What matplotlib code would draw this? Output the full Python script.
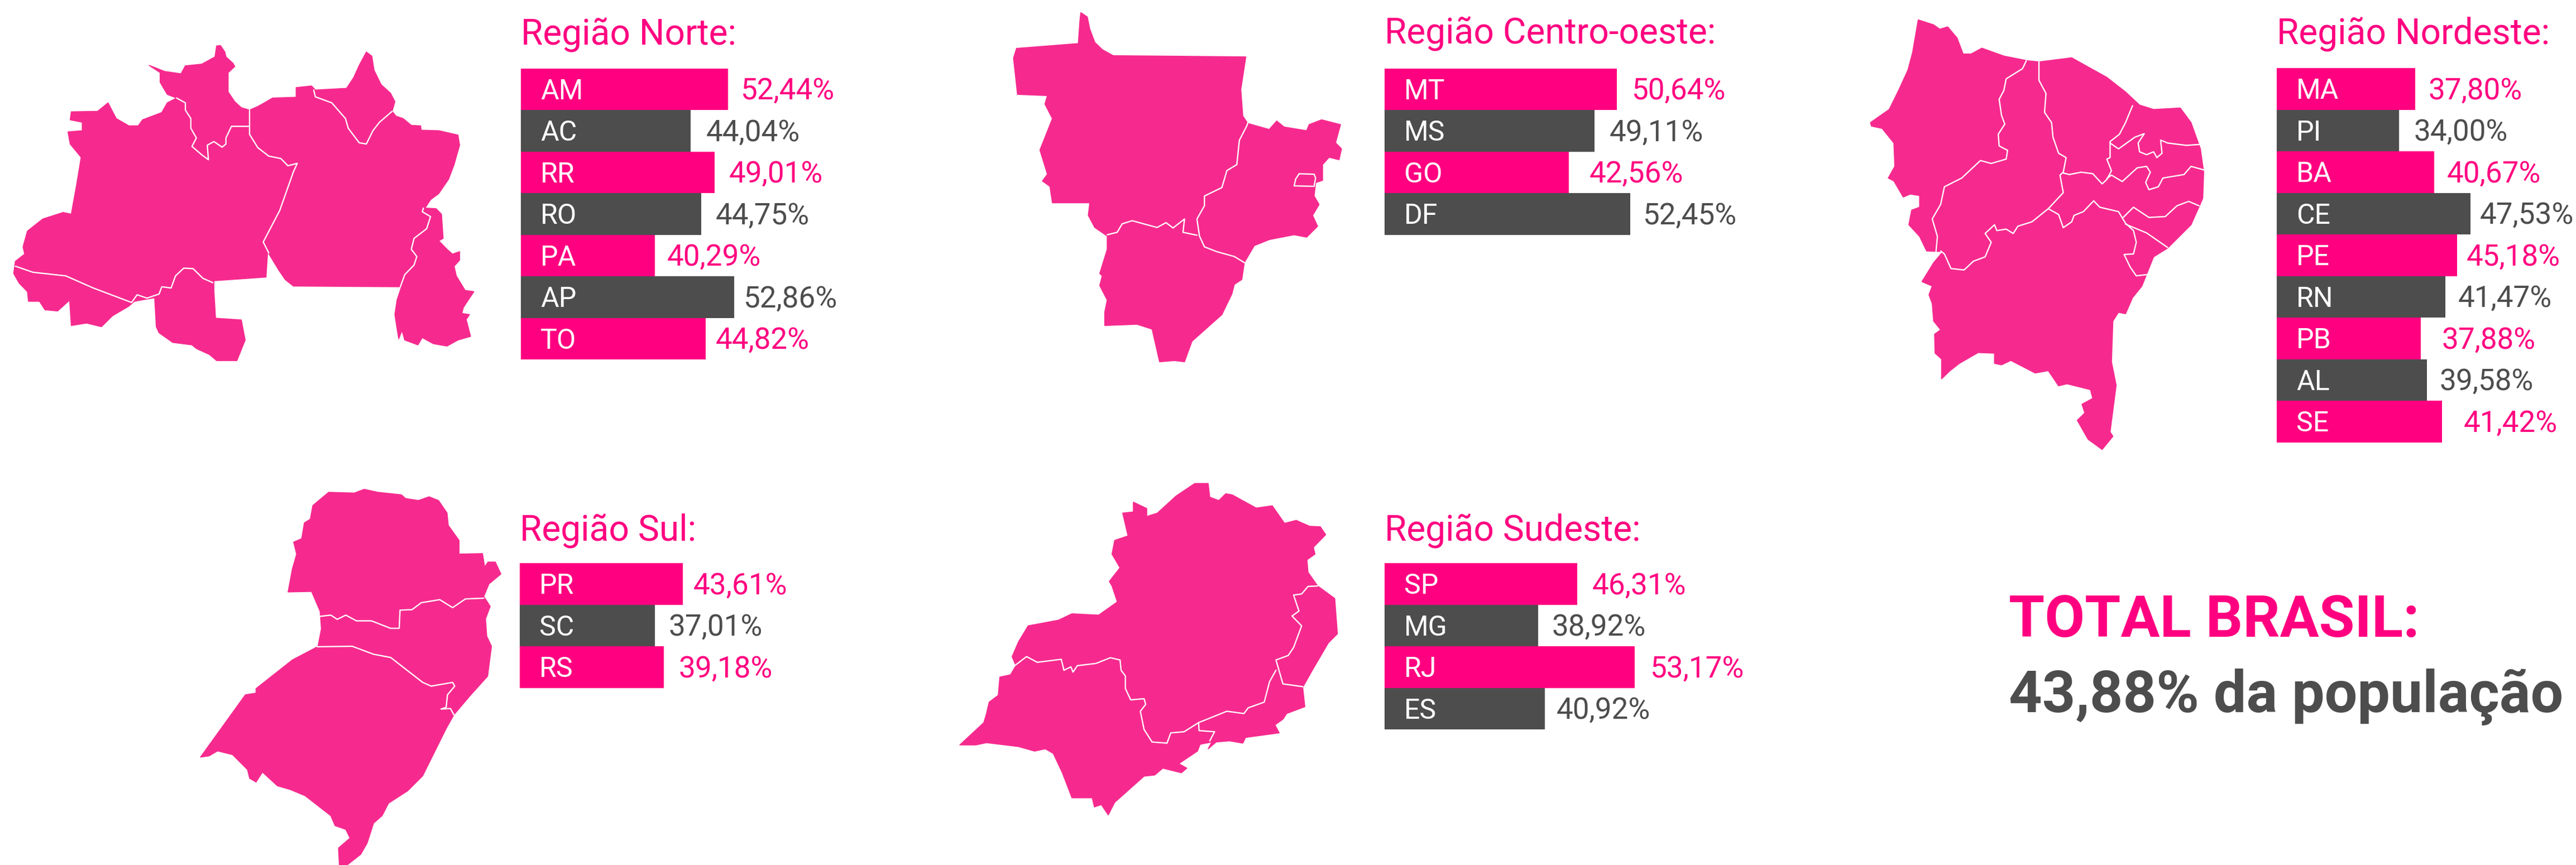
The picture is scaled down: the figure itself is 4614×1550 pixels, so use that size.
"""
plot.py
=======
Percentual da população por região e UF, com os mapas das regiões ao lado.
"""

import matplotlib
matplotlib.use('Agg')
import matplotlib.pyplot as plt
from matplotlib.patches import Polygon

ROSA = '#FF0080'
ROSA_MAPA = '#F62A8E'
CINZA = '#4D4D4D'

plt.rcParams['font.family'] = ['Roboto', 'DejaVu Sans']


# ── Dados ─────────────────────────────────────────────────────────────────────
# *_barras: comprimento desenhado de cada barra (px).
# Não é proporcional ao percentual escrito, por isso fica em lista própria.

norte_ufs = ['AM', 'AC', 'RR', 'RO', 'PA', 'AP', 'TO']
norte_valores = [52.44, 44.04, 49.01, 44.75, 40.29, 52.86, 44.82]
norte_barras = [371, 304, 347, 323, 240, 382, 331]

co_ufs = ['MT', 'MS', 'GO', 'DF']
co_valores = [50.64, 49.11, 42.56, 52.45]
co_barras = [416, 376, 330, 440]

ne_ufs = ['MA', 'PI', 'BA', 'CE', 'PE', 'RN', 'PB', 'AL', 'SE']
ne_valores = [37.80, 34.00, 40.67, 47.53, 45.18, 41.47, 37.88, 39.58, 41.42]
ne_barras = [248, 219, 282, 347, 323, 302, 258, 269, 296]

sul_ufs = ['PR', 'SC', 'RS']
sul_valores = [43.61, 37.01, 39.18]
sul_barras = [292, 242, 258]

se_ufs = ['SP', 'MG', 'RJ', 'ES']
se_valores = [46.31, 38.92, 53.17, 40.92]
se_barras = [345, 275, 448, 287]

total_titulo = 'TOTAL BRASIL:'
total_texto = '43,88% da população'


norte_contorno = [
    (402,188),(410,215),(412,235),(425,262),(428,275),(416,300),(416,380),(428,420),(440,445),(455,455),
    (470,440),(482,425),(497,405),(540,402),(540,362),(568,355),(575,372),(632,365),(645,320),(655,270),
    (668,215),(678,232),(682,290),(695,350),(712,385),(720,420),(715,460),(722,480),(735,490),(750,518),
    (767,520),(768,538),(800,540),(835,558),(838,600),(828,680),(818,740),(800,800),(785,825),(775,860),
    (795,862),(805,885),(808,985),(800,995),(815,1030),(825,1050),(838,1040),(838,1075),(828,1100),(832,1140),
    (848,1200),(864,1205),(845,1270),(842,1295),(856,1300),(850,1320),(858,1390),(835,1405),(815,1430),(790,1420),
    (770,1395),(762,1425),(738,1405),(733,1365),(727,1400),(720,1300),(724,1240),(732,1185),(535,1182),(520,1155),
    (508,1115),(488,1040),(485,1145),(390,1160),(390,1200),(393,1315),(440,1322),(447,1405),(432,1490),(395,1490),
    (382,1465),(358,1440),(350,1425),(315,1415),(290,1375),(285,1350),(282,1230),(245,1245),(235,1265),(205,1305),
    (185,1350),(158,1335),(130,1345),(127,1240),(105,1285),(82,1280),(72,1245),(52,1245),(50,1205),(35,1170),
    (25,1130),(28,1080),(45,1050),(42,1020),(50,955),(78,905),(115,878),(130,885),(140,760),(148,650),
    (128,595),(124,545),(150,540),(150,505),(128,495),(130,462),(178,460),(197,425),(205,460),(212,490),
    (235,520),(252,520),(260,495),(295,465),(305,425),(322,405),(305,390),(292,340),(292,300),(272,270),
    (300,295),(330,305),(338,272),(368,265),(392,235),(395,190),
]
norte_divisas = [
    [(322,405),(338,425),(338,455),(348,490),(348,530),(358,570),(350,605),(368,640),(380,660),(378,600),
     (390,585),(405,608),(412,595),(412,570),(422,522),(455,522)],
    [(455,455),(455,555),(470,610),(490,645),(512,655),(525,685),(542,675),(535,710),(510,870),(480,1000),(490,1045)],
    [(572,372),(575,400),(605,425),(630,490),(635,530),(655,590),(668,595),(680,540),(692,505),(715,460)],
    [(772,860),(770,875),(785,895),(778,945),(755,985),(750,1030),(760,1060),(755,1095),(738,1135),(730,1185)],
    [(28,1100),(60,1125),(120,1140),(170,1190),(240,1250),(250,1218),(268,1232),(290,1215),(295,1185),(312,1190),
     (320,1140),(335,1108),(352,1110),(370,1150),(388,1168)],
]

co_contorno = [
    (197,52),(210,70),(215,120),(225,175),(240,205),(262,230),(528,235),(518,370),(522,480),(532,510),
    (575,535),(590,500),(605,525),(650,540),(655,515),(680,495),(718,515),(708,590),(720,615),(715,660),
    (695,650),(682,680),(682,745),(668,755),(665,810),(675,845),(662,890),(672,935),(650,980),(625,970),
    (575,990),(545,1015),(525,1085),(520,1155),(505,1175),(500,1215),(480,1300),(420,1410),(405,1495),(385,1490),
    (355,1495),(340,1360),(310,1340),(245,1345),(245,1290),(250,1240),(235,1180),(240,1140),(235,1130),(250,1030),
    (250,975),(225,940),(212,890),(215,838),(140,838),(135,770),(120,748),(130,720),(115,620),(140,490),
    (125,430),(130,395),(70,390),(62,240),(68,200),(192,180),(195,90),
]
co_divisas = [
    [(540,460),(530,520),(515,580),(510,680),(490,705),(480,775),(445,810),(445,850),(430,905),(435,975),
     (445,1020),(470,1040),(505,1060),(525,1085)],
    [(250,970),(270,960),(280,925),(300,912),(350,940),(368,920),(382,942),(405,905),(402,960),(430,972)],
    [(635,718),(665,720),(668,735),(665,770),(625,768),(628,740),(635,718)],
]

ne_contorno = [
    (162,68),(195,85),(208,100),(225,92),(245,130),(258,185),(275,185),(298,165),(345,192),(395,208),
    (420,212),(490,198),(565,265),(605,315),(635,360),(665,375),(722,370),(745,420),(765,510),(772,590),
    (770,680),(745,770),(695,850),(665,880),(640,980),(620,1020),(605,1075),(590,1070),(578,1100),(575,1240),
    (585,1320),(572,1480),(578,1495),(555,1540),(525,1505),(502,1440),(518,1415),(512,1385),(535,1365),(530,1335),
    (480,1315),(462,1322),(440,1270),(412,1278),(360,1235),(340,1250),(325,1245),(325,1210),(290,1208),(250,1245),
    (230,1270),(212,1298),(212,1230),(198,1210),(197,1145),(210,1130),(195,1100),(192,1040),(185,1010),(192,980),
    (170,965),(195,900),(215,862),(180,860),(165,810),(142,770),(148,720),(165,710),(165,670),(145,665),
    (130,675),(110,620),(98,610),(112,570),(110,490),(85,440),(62,432),(60,420),(100,375),(120,310),
    (140,240),(150,180),
]
ne_divisas = [
    [(393,208),(385,235),(350,270),(345,310),(335,340),(340,395),(347,425),(333,460),(335,500),(353,515),
     (350,545),(318,560),(295,550),(255,610),(218,640),(210,700),(192,750),(203,810),(200,862)],
    [(420,212),(420,275),(435,320),(432,385),(447,420),(450,470),(462,525),(478,540),(472,590),(465,600),
     (472,660),(440,715),(405,760),(375,775),(365,800),(350,785),(330,790),(325,770),(305,800),(318,830),
     (305,880),(280,895),(260,925),(232,920),(218,870),(210,860)],
    [(620,362),(605,420),(592,460),(572,485),(572,540),(565,545),(575,585),(565,615),(555,630),(535,595),
     (510,590),(485,598),(470,592)],
    [(572,490),(590,510),(625,470),(645,458),(632,490),(635,520),(650,530),(665,520),(672,540),(683,525),
     (680,480),(695,490),(735,498),(762,495)],
    [(565,612),(575,600),(598,622),(630,575),(650,570),(658,590),(648,625),(655,650),(675,640),(685,610),
     (730,598),(745,570),(772,582)],
    [(440,715),(462,735),(472,780),(490,760),(495,738),(515,725),(537,688),(550,710),(590,725),(605,765),
     (622,790),(628,830),(622,870),(602,872),(615,915),(628,945),(655,940)],
    [(600,745),(622,710),(655,745),(690,742),(715,705),(740,690),(762,705)],
    [(605,768),(650,798),(695,848)],
]

sul_contorno = [
    (325,72),(385,75),(408,60),(440,72),(495,82),(505,97),(535,105),(560,90),(582,105),(602,155),
    (605,205),(630,265),(630,320),(685,318),(690,372),(698,352),(715,352),(728,400),(700,440),(688,490),
    (703,530),(692,580),(695,650),(706,690),(697,810),(655,890),(618,965),(600,1020),(545,1210),(510,1270),
    (465,1320),(450,1370),(430,1400),(415,1480),(400,1525),(368,1568),(350,1568),(348,1500),(375,1460),(365,1425),
    (340,1410),(330,1370),(300,1330),(270,1290),(235,1265),(205,1250),(170,1195),(155,1235),(140,1220),(135,1185),
    (100,1125),(65,1110),(45,1130),(25,1135),(130,885),(155,878),(155,860),(240,745),(290,700),(300,690),
    (308,620),(305,550),(285,470),(230,472),(240,380),(250,320),(243,272),(262,258),(268,195),(282,180),(288,125),
]
sul_divisas = [
    [(305,570),(330,565),(345,582),(365,565),(390,588),(425,588),(470,618),(490,618),(492,545),(520,543),
     (542,515),(585,503),(615,535),(645,500),(688,497)],
    [(298,692),(380,690),(430,722),(470,735),(545,835),(565,850),(615,835),(620,850),(603,885),(600,935),
     (588,942),(610,940),(618,965)],
]

se_contorno = [
    (460,40),(485,40),(488,100),(505,115),(518,85),(530,90),(575,148),(605,138),(628,215),(650,202),
    (675,228),(695,230),(705,265),(682,320),(685,350),(670,375),(672,430),(690,490),(722,545),(727,700),
    (710,740),(680,860),(662,935),(666,1020),(632,1050),(625,1075),(610,1100),(618,1135),(555,1155),(550,1180),
    (525,1170),(500,1175),(485,1205),(492,1175),(470,1185),(465,1215),(430,1270),(445,1290),(435,1310),(400,1290),
    (385,1320),(365,1325),(310,1440),(298,1495),(285,1450),(272,1460),(268,1420),(230,1420),(212,1310),(195,1225),
    (180,1205),(160,1215),(130,1195),(70,1178),(50,1188),(20,1188),(65,1090),(70,1050),(75,1000),(92,970),
    (95,890),(115,880),(125,840),(118,800),(130,735),(148,665),(205,640),(230,612),(280,618),(315,560),
    (305,490),(300,470),(320,410),(305,350),(310,290),(335,270),(325,170),(345,165),(345,122),(370,150),
    (370,185),(390,170),(425,95),
]
se_divisas = [
    [(120,845),(145,800),(165,825),(210,812),(215,860),(228,845),(232,868),(240,840),(275,830),(302,805),
     (320,815),(322,860),(330,885),(330,940),(340,990),(365,985),(368,1010),(358,1040),(365,1120),(380,1175),
     (408,1180),(415,1135),(440,1130),(467,1090),(520,1040),(552,1050),(560,1025),(590,1000),(600,910),(612,860)],
    [(690,490),(672,492),(660,525),(645,530),(655,600),(642,622),(660,665),(645,760),(635,795),(612,815),
     (625,920),(662,932)],
    [(467,1090),(468,1125),(497,1130),(488,1170)],
]


# ── Layout (px da figura) ─────────────────────────────────────────────────────

ALTURA = 74.5

# folga entre o fim da barra e o texto do valor
norte_folgas = [22, 28, 26, 26, 22, 16, 18]
co_folgas = [26, 27, 37, 22]
ne_folgas = [23, 27, 23, 17, 17, 23, 38, 23, 39]
sul_folgas = [19, 24, 27]
se_folgas = [27, 25, 27, 21]

PX_PT = 72 / 100


def px(tamanho):
    return tamanho * PX_PT


def para_figura(pontos, ox, oy, sx, sy):
    return [(ox + x / sx, oy + y / sy) for x, y in pontos]


def desenhar_mapa(ax, contorno, divisas, escala):
    ax.add_patch(Polygon(para_figura(contorno, *escala), closed=True, fc=ROSA_MAPA,
                         ec=ROSA_MAPA, lw=1.2, joinstyle='round'))
    for linha in divisas:
        pts = para_figura(linha, *escala)
        ax.plot([p[0] for p in pts], [p[1] for p in pts], color='white', lw=1.7,
                solid_joinstyle='round', solid_capstyle='round')


def desenhar_regiao(ax, titulo, x0, y_titulo, y0, ufs, valores, barras, folgas):
    ax.text(x0, y_titulo, titulo, color=ROSA, fontsize=px(64), va='baseline', ha='left')
    for i, (uf, val, larg, folga) in enumerate(zip(ufs, valores, barras, folgas)):
        cor = ROSA if i % 2 == 0 else CINZA
        topo = y0 + i * ALTURA
        ax.barh(topo + ALTURA / 2, larg, height=ALTURA, left=x0, color=cor, linewidth=0)
        base = topo + ALTURA / 2 + 18
        ax.text(x0 + 35, base, uf, color='white', fontsize=px(50), va='baseline', ha='left')
        rotulo = f'{val:.2f}'.replace('.', ',') + '%'
        ax.text(x0 + larg + folga, base, rotulo, color=cor, fontsize=px(53), va='baseline', ha='left')


# ── Figura ────────────────────────────────────────────────────────────────────

fig = plt.figure(figsize=(46.14, 15.50), dpi=100)
ax = fig.add_axes([0, 0, 1, 1])
ax.set_xlim(0, 4614)
ax.set_ylim(1550, 0)
ax.axis('off')

desenhar_mapa(ax, norte_contorno, norte_divisas, (0, 0, 1.018, 2.306))
desenhar_mapa(ax, co_contorno, co_divisas, (1760, 0, 1.12, 2.306))
desenhar_mapa(ax, ne_contorno, ne_divisas, (3300, 0, 1.193, 1.912))
desenhar_mapa(ax, sul_contorno, sul_divisas, (340, 850, 1.3067, 2.24))
desenhar_mapa(ax, se_contorno, se_divisas, (1700, 850, 1.0453, 2.45))

desenhar_regiao(ax, 'Região Norte:', 933, 80, 122.5, norte_ufs, norte_valores, norte_barras, norte_folgas)
desenhar_regiao(ax, 'Região Centro-oeste:', 2480, 79, 122.5, co_ufs, co_valores, co_barras, co_folgas)
desenhar_regiao(ax, 'Região Nordeste:', 4078, 79, 122, ne_ufs, ne_valores, ne_barras, ne_folgas)
desenhar_regiao(ax, 'Região Sul:', 931, 968, 1009, sul_ufs, sul_valores, sul_barras, sul_folgas)
desenhar_regiao(ax, 'Região Sudeste:', 2480, 968, 1009, se_ufs, se_valores, se_barras, se_folgas)

ax.text(3598, 1141, total_titulo, color=ROSA, fontsize=px(104), fontweight='bold', va='baseline', ha='left')
ax.text(3598, 1276, total_texto, color=CINZA, fontsize=px(104), fontweight='bold', va='baseline', ha='left')

fig.savefig('out.png', dpi=100, facecolor='white')
